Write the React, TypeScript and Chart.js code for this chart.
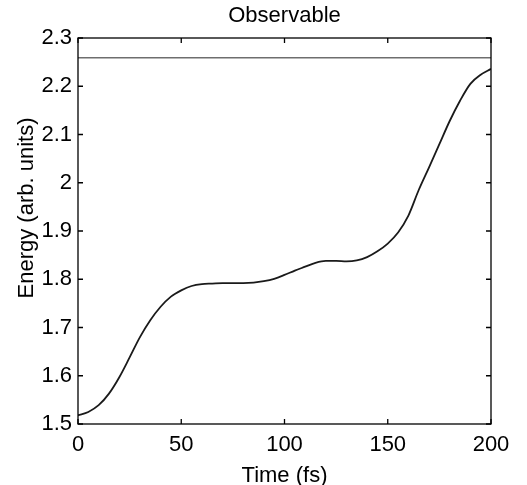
import React, { useEffect, useRef } from "react";
import { Chart, registerables } from "chart.js";

Chart.register(...registerables);

const timeFs = [0, 5, 10, 15, 20, 25, 30, 35, 40, 45, 50, 55, 60, 65, 70, 75, 80, 85, 90, 95, 100, 105, 110, 115, 120, 125, 130, 135, 140, 145, 150, 155, 160, 165, 170, 175, 180, 185, 190, 195, 200];
const energy = [1.518, 1.525, 1.539, 1.563, 1.597, 1.638, 1.680, 1.715, 1.743, 1.764, 1.777, 1.786, 1.790, 1.791, 1.792, 1.792, 1.792, 1.793, 1.796, 1.801, 1.809, 1.818, 1.826, 1.834, 1.838, 1.838, 1.837, 1.839, 1.846, 1.858, 1.874, 1.897, 1.932, 1.985, 2.032, 2.080, 2.128, 2.170, 2.205, 2.224, 2.236];
const referenceTime = [0, 200];
const referenceEnergy = [2.259, 2.259];
const xTicks = [0, 50, 100, 150, 200];
const yTicks = [1.5, 1.6, 1.7, 1.8, 1.9, 2.0, 2.1, 2.2, 2.3];
const titleText = "Observable";
const xLabel = "Time (fs)";
const yLabel = "Energy (arb. units)";

const FONT = "'Liberation Sans', Arial, Helvetica, sans-serif";

const framePlugin = {
  id: "matlabFrame",
  afterDraw(chart: any) {
    const { ctx, chartArea } = chart;
    const { left, right, top, bottom } = chartArea;
    const xs = chart.scales.x;
    const ys = chart.scales.y;
    ctx.save();
    ctx.strokeStyle = "#000";
    ctx.lineWidth = 1.3;
    ctx.strokeRect(left, top, right - left, bottom - top);
    const tl = 5;
    ctx.beginPath();
    xTicks.forEach((v) => {
      const px = xs.getPixelForValue(v);
      ctx.moveTo(px, bottom);
      ctx.lineTo(px, bottom - tl);
      ctx.moveTo(px, top);
      ctx.lineTo(px, top + tl);
    });
    yTicks.forEach((v) => {
      const py = ys.getPixelForValue(v);
      ctx.moveTo(left, py);
      ctx.lineTo(left + tl, py);
      ctx.moveTo(right, py);
      ctx.lineTo(right - tl, py);
    });
    ctx.stroke();
    ctx.fillStyle = "#000";
    ctx.font = `22px ${FONT}`;
    ctx.textAlign = "center";
    ctx.textBaseline = "alphabetic";
    ctx.fillText(titleText, (left + right) / 2, 21.5);
    ctx.translate(33, 208);
    ctx.rotate(-Math.PI / 2);
    ctx.fillText(yLabel, 0, 0);
    ctx.restore();
  },
};

export default function App() {
  const ref = useRef<HTMLCanvasElement>(null);
  useEffect(() => {
    if (!ref.current) return;
    const chart = new Chart(ref.current, {
      type: "line",
      data: {
        datasets: [
          {
            data: referenceTime.map((t, i) => ({ x: t, y: referenceEnergy[i] })),
            borderColor: "#6e6e6e",
            borderWidth: 1.6,
            pointRadius: 0,
            fill: false,
          },
          {
            data: timeFs.map((t, i) => ({ x: t, y: energy[i] })),
            borderColor: "#1a1a1a",
            borderWidth: 1.8,
            pointRadius: 0,
            fill: false,
            cubicInterpolationMode: "monotone",
          },
        ],
      },
      options: {
        animation: false,
        responsive: true,
        maintainAspectRatio: false,
        layout: { padding: { top: 38, right: 36, left: 0, bottom: 0 } },
        plugins: { legend: { display: false }, tooltip: { enabled: false }, title: { display: false } },
        scales: {
          x: {
            type: "linear",
            min: 0,
            max: 200,
            grid: { display: false, drawTicks: false },
            border: { display: false },
            afterFit: (s: any) => { s.height = 61; },
            afterBuildTicks: (s: any) => { s.ticks = xTicks.map((v) => ({ value: v })); },
            ticks: {
              padding: 8,
              color: "#000",
              font: { family: FONT, size: 22 },
              maxRotation: 0,
              callback: (v: any) => String(v),
            },
            title: {
              display: true,
              text: xLabel,
              color: "#000",
              font: { family: FONT, size: 22 },
              padding: { top: 0, bottom: -4 },
            },
          },
          y: {
            type: "linear",
            min: 1.5,
            max: 2.3,
            grid: { display: false, drawTicks: false },
            border: { display: false },
            afterFit: (s: any) => { s.width = 78; },
            afterBuildTicks: (s: any) => { s.ticks = yTicks.map((v) => ({ value: v })); },
            ticks: {
              padding: 6,
              color: "#000",
              font: { family: FONT, size: 22 },
              callback: (v: any) => String(Math.round(v * 10) / 10),
            },
          },
        },
      },
      plugins: [framePlugin],
    } as any);
    return () => chart.destroy();
  }, []);
  return (
    <div style={{ position: "fixed", left: 0, top: 0, width: 527, height: 485, background: "#fff" }}>
      <canvas ref={ref} />
    </div>
  );
}
